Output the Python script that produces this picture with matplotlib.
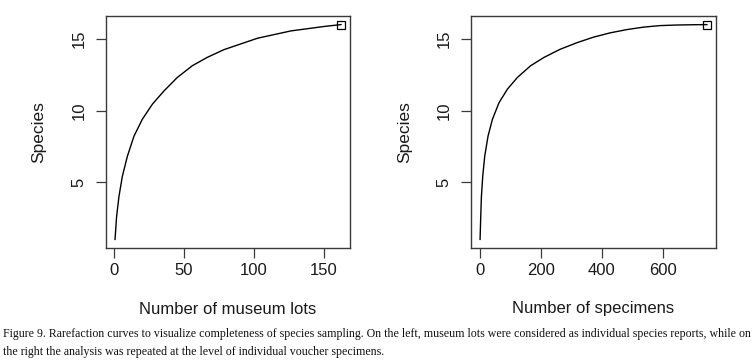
import matplotlib
matplotlib.use('Agg')
import matplotlib.pyplot as plt

# Left panel: rarefaction by museum lots
lots_x = [1, 2.1, 3.8, 6.2, 9.8, 14.5, 20.4, 27.6, 35.9, 45.4, 56.1, 66.7,
          78.6, 102.6, 126.4, 150.1, 162]
lots_species = [1.0, 2.59, 4.0, 5.40, 6.81, 8.21, 9.38, 10.44, 11.37, 12.31,
                13.13, 13.71, 14.25, 15.05, 15.56, 15.87, 16.0]

# Right panel: rarefaction by specimens
spec_x = [1, 3.2, 5.4, 9.7, 16.2, 27.1, 41.4, 63.2, 90.6, 123.4, 167, 210.8,
          263, 318, 372.5, 427, 482, 536, 591, 646, 700, 745]
spec_species = [1.0, 2.59, 4.0, 5.40, 6.81, 8.21, 9.38, 10.55, 11.49, 12.31,
                13.13, 13.71, 14.27, 14.73, 15.12, 15.42, 15.65, 15.82, 15.93,
                15.97, 15.99, 16.0]

left_xticks = [0, 50, 100, 150]
right_xticks = [0, 200, 400, 600]
yticks = [5, 10, 15]

left_xlabel = "Number of museum lots"
right_xlabel = "Number of specimens"
ylabel = "Species"
caption1 = ("Figure 9. Rarefaction curves to visualize completeness of species sampling. "
            "On the left, museum lots were considered as individual species reports, while on")
caption2 = "the right the analysis was repeated at the level of individual voucher specimens."

W, H = 754, 363
fig = plt.figure(figsize=(W / 100, H / 100), dpi=100)
plt.rcParams['font.family'] = ['Liberation Sans', 'DejaVu Sans']

frame_col = '#3a3a3a'
text_col = '#1a1a1a'


def r_lim(vals):
    lo, hi = min(vals), max(vals)
    d = (hi - lo) * 0.04
    return lo - d, hi + d


def panel(left_px, width_px, xs, ys, xticks, xlabel):
    ax = fig.add_axes([left_px / W, 1 - 248 / H, width_px / W, 232 / H])
    ax.plot(xs, ys, color='black', lw=1.0, solid_joinstyle='round')
    ax.plot([xs[-1]], [ys[-1]], marker='s', mfc='none', mec='black', ms=6, mew=0.9)
    ax.set_xlim(*r_lim(xs))
    ax.set_ylim(*r_lim(ys))
    ax.set_xticks(xticks)
    ax.set_yticks(yticks)
    ax.tick_params(axis='both', direction='out', length=7, width=0.9,
                   colors=frame_col, labelcolor=text_col, labelsize=12)
    ax.tick_params(axis='x', pad=4)
    ax.tick_params(axis='y', pad=7)
    for lab in ax.get_yticklabels():
        lab.set_rotation(90)
        lab.set_va('center')
    for s in ax.spines.values():
        s.set_color(frame_col)
        s.set_linewidth(1.0)
    cx = (left_px + width_px / 2) / W
    fig.text(cx, 1 - 309 / H, xlabel, ha='center', va='center', fontsize=12,
             color=text_col)
    return ax


panel(106, 244, lots_x, lots_species, left_xticks, left_xlabel)
panel(471, 245, spec_x, spec_species, right_xticks, right_xlabel)

fig.text(39 / W, 1 - 132 / H, ylabel, rotation=90, ha='center', va='center',
         fontsize=12.5, color=text_col)
fig.text(405 / W, 1 - 132 / H, ylabel, rotation=90, ha='center', va='center',
         fontsize=12.5, color=text_col)

cap_font = ['Liberation Serif', 'DejaVu Serif']
t1 = fig.text(3 / W, 1 - 334 / H, caption1, ha='left', va='center', fontsize=9.5,
              family=cap_font, color='#111111')
t2 = fig.text(3 / W, 1 - 352 / H, caption2, ha='left', va='center', fontsize=9.5,
              family=cap_font, color='#111111')
# fit caption line width to the page width
renderer = fig.canvas.get_renderer()
w1 = t1.get_window_extent(renderer).width
scale = 749 / w1
t1.set_fontsize(9.5 * scale)
t2.set_fontsize(9.5 * scale)

fig.savefig('out.png', dpi=100)
